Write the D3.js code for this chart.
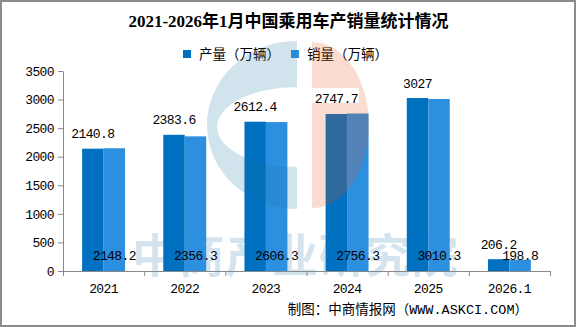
<!DOCTYPE html>
<html>
<head>
<meta charset="utf-8">
<script src="https://d3js.org/d3.v7.min.js"></script>
<style>
  body { margin: 0; background: #fff; }
  svg { display: block; }
  .num { font-family: "Liberation Mono", "DejaVu Sans Mono", monospace; font-size: 13px; letter-spacing: -0.6px; fill: #000; }
</style>
</head>
<body>
<svg></svg>
<script>
  const years = ["2021", "2022", "2023", "2024", "2025", "2026.1"];
  const production = [2140.8, 2383.6, 2612.4, 2747.7, 3027, 206.2];
  const sales = [2148.2, 2356.3, 2606.3, 2756.3, 3010.3, 198.8];
  const yTicks = [0, 500, 1000, 1500, 2000, 2500, 3000, 3500];
  const seriesNames = ["产量（万辆）", "销量（万辆）"];

  const W = 576, H = 327;
  const plot = {left: 63, right: 550, top: 71, bottom: 271};
  const colors = ["#0070C0", "#2D8FE0"];
  const axisColor = "#898989";

  const svg = d3.select("svg").attr("width", W).attr("height", H);

  const x0 = d3.scaleBand().domain(years).range([plot.left, plot.right]);
  const x1 = d3.scaleBand().domain([0, 1]).range([0, x0.bandwidth()]).paddingOuter(0.89);
  const y = d3.scaleLinear().domain([0, 3500]).range([plot.bottom, plot.top]);

  const blueWm = "rgba(25,115,165,0.2)";
  const orangeWm = "rgba(235,82,18,0.2)";

  // title
  svg.append("text")
    .attr("x", 288.5).attr("y", 27)
    .attr("text-anchor", "middle")
    .style("font-family", "'Liberation Serif', 'Noto Sans CJK SC', serif")
    .style("font-weight", "bold")
    .style("font-size", "17px")
    .text("2021-2026年1月中国乘用车产销量统计情况");

  // legend
  const legendX = [183, 291];
  seriesNames.forEach((name, i) => {
    svg.append("rect")
      .attr("x", legendX[i]).attr("y", 50)
      .attr("width", 8).attr("height", 8)
      .attr("fill", colors[i]);
    svg.append("text")
      .attr("x", legendX[i] + 16).attr("y", 59)
      .style("font-family", "'Noto Sans CJK SC', sans-serif")
      .style("font-size", "13.5px")
      .text(name);
  });

  // watermark text sits behind the bars
  svg.append("text")
    .attr("x", 132).attr("y", 272)
    .attr("fill", blueWm)
    .style("font-family", "'Noto Sans CJK SC', sans-serif")
    .style("font-weight", "bold")
    .style("font-size", "46px")
    .style("letter-spacing", "0.6px")
    .text("中商产业研究院");

  // y axis
  const yAxis = svg.append("g")
    .attr("transform", `translate(${plot.left},0)`)
    .call(d3.axisLeft(y).tickValues(yTicks).tickFormat(d3.format("d"))
      .tickSize(5).tickSizeOuter(0).tickPadding(4));
  yAxis.selectAll("path, line").attr("stroke", axisColor);
  yAxis.selectAll("text").attr("class", "num").attr("fill", "#000").style("font-size", null);

  // bars
  const groups = svg.append("g").selectAll("g")
    .data(years)
    .join("g")
    .attr("transform", d => `translate(${x0(d)},0)`);

  groups.selectAll("rect")
    .data((d, i) => [production[i], sales[i]])
    .join("rect")
    .attr("x", (d, j) => x1(j))
    .attr("y", d => y(d))
    .attr("width", x1.bandwidth())
    .attr("height", d => y(0) - y(d))
    .attr("fill", (d, j) => colors[j]);

  // x axis: ticks on band edges, labels in band centers
  const xEdges = d3.scaleLinear().domain([0, years.length]).range([plot.left, plot.right]);
  const xAxis = svg.append("g")
    .attr("transform", `translate(0,${plot.bottom})`)
    .call(d3.axisBottom(xEdges).ticks(years.length).tickSize(5).tickSizeOuter(0).tickFormat(""));
  xAxis.selectAll("path, line").attr("stroke", axisColor);

  svg.append("g").selectAll("text")
    .data(years)
    .join("text")
    .attr("class", "num")
    .attr("x", d => x0(d) + x0.bandwidth() / 2)
    .attr("y", 293)
    .attr("text-anchor", "middle")
    .text(d => d);

  // logo watermark over the plot
  const wm = svg.append("g").attr("pointer-events", "none");
  const cx = 297, cy = 125;
  // left crescent: outer half ellipse minus inner half ellipse
  wm.append("path")
    .attr("fill", blueWm)
    .attr("fill-rule", "evenodd")
    .attr("d", `M${cx},${cy - 84} A90,84 0 0 0 ${cx},${cy + 84} Z
                M${cx},${cy - 38} A80,40 0 0 0 ${cx},${cy + 42} Z`);
  // right half, with a horizontal slot
  const ox = 312;
  wm.append("path")
    .attr("fill", orangeWm)
    .attr("fill-rule", "evenodd")
    .attr("d", `M${ox},${cy - 83} A57,83 0 0 1 ${ox},${cy + 83} Z
                M${ox},88 L${ox + 47},88 L${ox + 47},103 L${ox},103 Z`);

  // value labels
  const labels = svg.append("g");
  years.forEach((yr, i) => {
    labels.append("text")
      .attr("class", "num")
      .attr("x", x0(yr) + x1(0) + x1.bandwidth() / 2)
      .attr("y", y(production[i]) - 10.5)
      .attr("text-anchor", "middle")
      .text(production[i]);
    labels.append("text")
      .attr("class", "num")
      .attr("x", x0(yr) + x1(1) + x1.bandwidth() / 2)
      .attr("y", 260)
      .attr("text-anchor", "middle")
      .text(sales[i]);
  });

  // source note
  svg.append("text")
    .attr("x", 528).attr("y", 314)
    .attr("text-anchor", "end")
    .style("font-family", "'Liberation Mono', 'Noto Sans CJK SC', monospace")
    .style("font-size", "13.5px")
    .text("制图：中商情报网（WWW.ASKCI.COM）");

  // frame
  svg.append("rect")
    .attr("x", 1).attr("y", 1)
    .attr("width", W - 2).attr("height", H - 2)
    .attr("fill", "none")
    .attr("stroke", "#8c8c8c")
    .attr("stroke-width", 2);
</script>
</body>
</html>
